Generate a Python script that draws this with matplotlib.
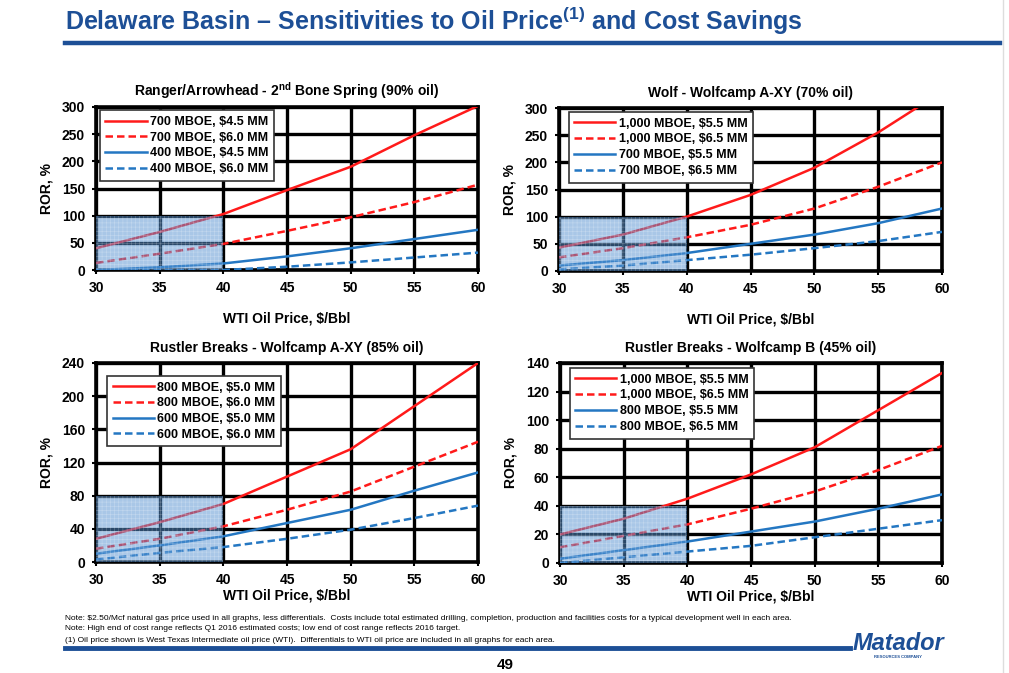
import matplotlib
matplotlib.use("Agg")
import matplotlib.pyplot as plt
from matplotlib.patches import Rectangle
from matplotlib.lines import Line2D

plt.rcParams["font.family"] = ["Liberation Sans", "DejaVu Sans"]
plt.rcParams["mathtext.fontset"] = "custom"
plt.rcParams["mathtext.bf"] = "Liberation Sans:bold"
plt.rcParams["mathtext.rm"] = "Liberation Sans"
plt.rcParams["hatch.linewidth"] = 0.4

# --- data (ROR, % vs WTI oil price) ---
price = [30, 35, 40, 45, 50, 55, 60]

ranger_labels = ["700 MBOE, $4.5 MM", "700 MBOE, $6.0 MM",
                 "400 MBOE, $4.5 MM", "400 MBOE, $6.0 MM"]
ranger_700_lo = [40, 70, 103, 147, 190, 248, 302]
ranger_700_hi = [13, 30, 48, 72, 97, 125, 157]
ranger_400_lo = [0, 5, 12, 25, 40, 57, 74]
ranger_400_hi = [0, 0, 0, 6, 14, 23, 32]

wolf_labels = ["1,000 MBOE, $5.5 MM", "1,000 MBOE, $6.5 MM",
               "700 MBOE, $5.5 MM", "700 MBOE, $6.5 MM"]
wolf_1000_lo = [43, 67, 100, 140, 190, 255, 330]
wolf_1000_hi = [25, 42, 62, 85, 115, 155, 200]
wolf_700_lo = [10, 20, 33, 50, 67, 88, 115]
wolf_700_hi = [3, 10, 20, 30, 42, 55, 72]

rbxy_labels = ["800 MBOE, $5.0 MM", "800 MBOE, $6.0 MM",
               "600 MBOE, $5.0 MM", "600 MBOE, $6.0 MM"]
rbxy_800_lo = [28, 48, 70, 103, 136, 188, 240]
rbxy_800_hi = [16, 28, 43, 63, 85, 115, 145]
rbxy_600_lo = [10, 20, 31, 47, 63, 86, 108]
rbxy_600_hi = [3, 11, 18, 28, 39, 53, 68]

rbb_labels = ["1,000 MBOE, $5.5 MM", "1,000 MBOE, $6.5 MM",
              "800 MBOE, $5.5 MM", "800 MBOE, $6.5 MM"]
rbb_1000_lo = [20, 31, 45, 62, 81, 107, 133]
rbb_1000_hi = [11, 19, 27, 38, 50, 65, 82]
rbb_800_lo = [3, 9, 15, 22, 29, 38, 48]
rbb_800_hi = [0, 4, 8, 12, 18, 24, 30]

footnotes = [
    "Note: $2.50/Mcf natural gas price used in all graphs, less differentials.  Costs include total estimated drilling, "
    "completion, production and facilities costs for a typical development well in each area.",
    "Note: High end of cost range reflects Q1 2016 estimated costs; low end of cost range reflects 2016 target.",
    "(1) Oil price shown is West Texas Intermediate oil price (WTI).  Differentials to WTI oil price are included "
    "in all graphs for each area.",
]

RED = "#ff1a1a"
BLUE = "#2477c2"
NAVY = "#1d4f96"

W, H = 1009, 673
fig = plt.figure(figsize=(W / 100, H / 100), dpi=100)


def rect(l, r, t, b):
    return [l / W, 1 - b / H, (r - l) / W, (b - t) / H]


def panel(box, title, labels, series, ymax, ystep, shade_top, leg_anchor, xlabel_pad):
    ax = fig.add_axes(rect(*box))
    styles = [(RED, "-"), (RED, "--"), (BLUE, "-"), (BLUE, "--")]
    for (c, ls), y, lab in zip(styles, series, labels):
        ax.plot(price, y, color=c, ls=ls, lw=1.8, label=lab, zorder=3,
                dashes=(3, 1.6) if ls == "--" else (None, None))
    ax.set_xlim(30, 60)
    ax.set_ylim(0, ymax)
    ax.set_xticks(range(30, 61, 5))
    ax.set_yticks(range(0, ymax + 1, ystep))
    ax.grid(True, color="black", lw=2.4, zorder=1)
    ax.set_axisbelow(True)
    for s in ax.spines.values():
        s.set_linewidth(2.6)
    ax.tick_params(length=3, width=1.5, labelsize=10, pad=5)
    for t in ax.get_xticklabels() + ax.get_yticklabels():
        t.set_fontweight("bold")
    # shaded low-price region
    ax.add_patch(Rectangle((30, 0), 10, shade_top, facecolor=(0.33, 0.57, 0.82, 0.5),
                           edgecolor=(1, 1, 1, 0.3), hatch="++++", lw=0, zorder=4))
    ax.set_title(title, fontsize=10, fontweight="bold", pad=8)
    ax.set_ylabel("ROR, %", fontsize=10, fontweight="bold", labelpad=6)
    ax.set_xlabel("WTI Oil Price, $/Bbl", fontsize=10, fontweight="bold", labelpad=xlabel_pad)
    leg = ax.legend(loc="upper left", bbox_to_anchor=leg_anchor, fontsize=9, handlelength=3.3,
                    handletextpad=0.25, labelspacing=0.3, borderpad=0.45, fancybox=False,
                    framealpha=1, edgecolor="#333333", borderaxespad=0)
    leg.get_frame().set_linewidth(1.2)
    leg.set_zorder(6)
    for t in leg.get_texts():
        t.set_fontweight("bold")
    return ax


panel((96, 478, 107, 270), r"Ranger/Arrowhead - 2$^{\mathbf{nd}}$ Bone Spring (90% oil)",
      ranger_labels, [ranger_700_lo, ranger_700_hi, ranger_400_lo, ranger_400_hi],
      300, 50, 100, (0.01, 0.98), 12)
panel((559, 942, 108, 271), "Wolf - Wolfcamp A-XY (70% oil)",
      wolf_labels, [wolf_1000_lo, wolf_1000_hi, wolf_700_lo, wolf_700_hi],
      300, 50, 100, (0.025, 0.975), 12)
panel((96, 478, 363, 562), "Rustler Breaks - Wolfcamp A-XY (85% oil)",
      rbxy_labels, [rbxy_800_lo, rbxy_800_hi, rbxy_600_lo, rbxy_600_hi],
      240, 40, 80, (0.03, 0.935), 1)
panel((560, 942, 363, 563), "Rustler Breaks - Wolfcamp B (45% oil)",
      rbb_labels, [rbb_1000_lo, rbb_1000_hi, rbb_800_lo, rbb_800_hi],
      140, 20, 40, (0.025, 0.975), 1)

# header
fig.text(65 / W, 1 - 21 / H, r"Delaware Basin – Sensitivities to Oil Price$^{\mathbf{(1)}}$ and Cost Savings",
         fontsize=18, fontweight="bold", color=NAVY, va="center", ha="left")
fig.add_artist(Line2D([65 / W, 1000 / W], [1 - 43 / H] * 2, color=NAVY, lw=3.2))

# footnotes
for i, line in enumerate(footnotes):
    fig.text(65 / W, 1 - (618 + 11 * i) / H, line, fontsize=6,
             family=["Liberation Sans Narrow", "Liberation Sans"], va="center", ha="left")
fig.add_artist(Line2D([65 / W, 850 / W], [1 - 648 / H] * 2, color=NAVY, lw=3.5))
fig.text(505 / W, 1 - 665 / H, "49", fontsize=11, fontweight="bold", ha="center", va="center")

# logo
fig.text(898 / W, 1 - 643 / H, "Matador", fontsize=17, fontweight="bold", style="italic",
         color=NAVY, ha="center", va="center")
fig.text(898 / W, 1 - 657 / H, "RESOURCES COMPANY", fontsize=3, fontweight="bold",
         color=NAVY, ha="center", va="center")

fig.add_artist(Line2D([1003 / W] * 2, [0, 1], color="#dddddd", lw=1))

fig.savefig("out.png", dpi=100)
